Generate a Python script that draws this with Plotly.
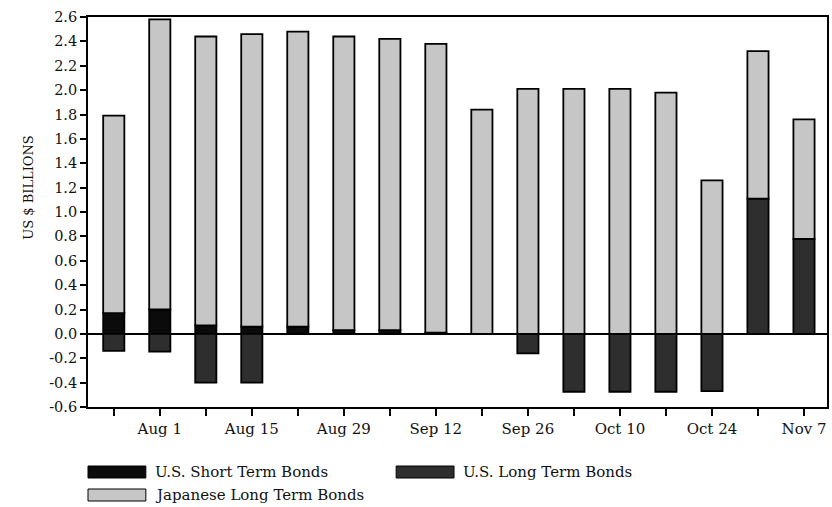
import plotly.graph_objects as go

# Weekly net purchases, US$ billions
weeks = ["Jul 25", "Aug 1", "Aug 8", "Aug 15", "Aug 22", "Aug 29", "Sep 5", "Sep 12",
         "Sep 19", "Sep 26", "Oct 3", "Oct 10", "Oct 17", "Oct 24", "Oct 31", "Nov 7"]
us_short = [0.17, 0.20, 0.07, 0.06, 0.06, 0.03, 0.03, 0.01,
            0.00, 0.00, 0.00, 0.00, 0.00, 0.00, 0.00, 0.00]
us_long = [-0.14, -0.145, -0.40, -0.40, 0.00, 0.00, 0.00, 0.00,
           0.00, -0.16, -0.475, -0.475, -0.475, -0.47, 1.11, 0.78]
japan_long = [1.62, 2.38, 2.37, 2.40, 2.42, 2.41, 2.39, 2.37,
              1.84, 2.01, 2.01, 2.01, 1.98, 1.26, 1.21, 0.98]

series_names = ["U.S. Short Term Bonds", "U.S. Long Term Bonds", "Japanese Long Term Bonds"]
series_colors = ["#0b0b0b", "#2e2e2e", "#c6c6c6"]

y_ticks = [-0.6, -0.4, -0.2, 0.0, 0.2, 0.4, 0.6, 0.8, 1.0, 1.2, 1.4, 1.6, 1.8, 2.0, 2.2, 2.4, 2.6]
y_ticktext = ["-0.6", "-0.4", "-0.2", "0.0", "0.2", "0.4", "0.6", "0.8", "1.0",
              "1.2", "1.4", "1.6", "1.8", "2.0", "2.2", "2.4", "2.6"]
x_ticktext = [w if i % 2 == 1 else "" for i, w in enumerate(weeks)]

FONT = "DejaVu Serif"
W, H = 832, 507
L, R, T, B = 88, 3, 17, 100
plot_w = W - L - R
plot_h = H - T - B


def px_x(px):
    return (px - L) / plot_w


def px_y(py):
    return (H - B - py) / plot_h


fig = go.Figure()
for name, vals, col in zip(series_names, [us_short, us_long, japan_long], series_colors):
    fig.add_trace(go.Bar(
        x=weeks, y=vals, name=name, width=0.46,
        marker=dict(color=col, line=dict(color="#000000", width=1.8)),
        showlegend=False,
    ))

fig.update_layout(
    width=W, height=H,
    margin=dict(l=L, r=R, t=T, b=B),
    barmode="relative",
    paper_bgcolor="white", plot_bgcolor="white",
    font=dict(family=FONT, color="#111111", size=14),
)
fig.update_xaxes(
    type="category", range=[-0.56, 15.5],
    tickmode="array", tickvals=weeks, ticktext=x_ticktext,
    ticks="outside", ticklen=7, tickwidth=1.5, tickcolor="#000",
    showline=True, linecolor="#000", linewidth=1.8, mirror=True,
    showgrid=False, tickfont=dict(family=FONT, size=15),
)
fig.update_yaxes(
    range=[-0.6, 2.6], tickmode="array", tickvals=y_ticks, ticktext=y_ticktext,
    ticks="outside", ticklen=6, tickwidth=1.5, tickcolor="#000",
    showline=True, linecolor="#000", linewidth=1.8, mirror=True,
    showgrid=False, zeroline=True, zerolinecolor="#000", zerolinewidth=1.5,
    tickfont=dict(family=FONT, size=14.5),
)

fig.add_annotation(
    text="US $ BILLIONS", textangle=-90, xref="paper", yref="paper",
    x=px_x(18), y=px_y(188), showarrow=False,
    font=dict(family=FONT, size=13, color="#111"),
)

# Legend drawn with wide swatches
legend_spots = [(88, 472), (397, 472), (88, 495)]
for (sx, sy), name, col in zip(legend_spots, series_names, series_colors):
    fig.add_shape(
        type="rect", xref="paper", yref="paper",
        x0=px_x(sx), x1=px_x(sx + 58), y0=px_y(sy - 6), y1=px_y(sy + 6),
        fillcolor=col, line=dict(color="#000", width=1),
    )
    fig.add_annotation(
        text=name, xref="paper", yref="paper", x=px_x(sx + 65), y=px_y(sy),
        xanchor="left", yanchor="middle", showarrow=False,
        font=dict(family=FONT, size=15, color="#111"),
    )

fig.write_html("out.html")
